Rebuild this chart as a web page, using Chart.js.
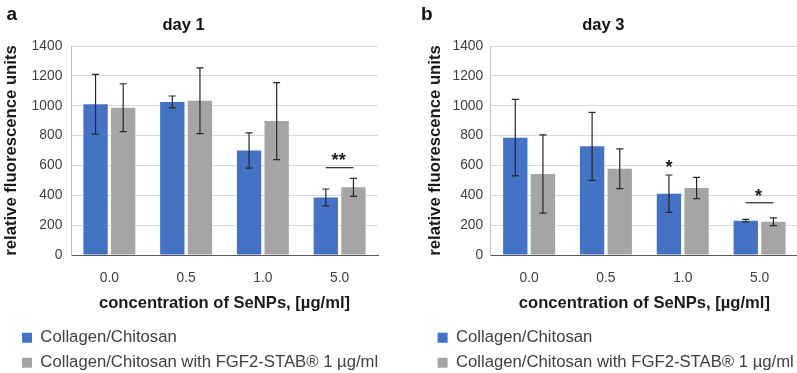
<!DOCTYPE html>
<html>
<head>
<meta charset="utf-8">
<script src="https://cdn.jsdelivr.net/npm/chart.js@4/dist/chart.umd.min.js"></script>
<style>
  html, body { margin: 0; padding: 0; background: #fff; }
  body { width: 797px; height: 373px; overflow: hidden; position: relative; }
  .panel { position: absolute; top: 0; }
</style>
</head>
<body>
<div class="panel" style="left:0px"><canvas id="c1" width="400" height="381"></canvas></div>
<div class="panel" style="left:400px"><canvas id="c2" width="398" height="381"></canvas></div>
<script>
// ---- data ----
const categories = ['0.0', '0.5', '1.0', '5.0'];
const seriesNames = ['Collagen/Chitosan', 'Collagen/Chitosan with FGF2-STAB® 1 µg/ml'];
const day1Collagen    = [1010, 1025, 700, 385];
const day1CollagenErr = [200, 40, 118, 57];
const day1Fgf         = [987, 1033, 897, 453];
const day1FgfErr      = [160, 220, 258, 60];
const day3Collagen    = [786, 728, 411, 230];
const day3CollagenErr = [256, 228, 125, 9];
const day3Fgf         = [543, 578, 449, 223];
const day3FgfErr      = [262, 133, 71, 26];
const yMin = 0, yMax = 1400, yStep = 200;
// significance marks: category index, text, value of bracket line (null = over single bar), value of text baseline, dataset under a single mark
const day1SigCat = [3];       const day1SigText = ['**'];     const day1SigLine = [585];       const day1SigTextVal = [593];      const day1SigBar = [null];
const day3SigCat = [2, 3];    const day3SigText = ['*', '*']; const day3SigLine = [null, 350]; const day3SigTextVal = [552, 354]; const day3SigBar = [0, null];

const FONT = '"Liberation Sans", Arial, sans-serif';
const BLUE = '#4472C4', GREY = '#A5A5A5';

const decor = {
  id: 'decor',
  afterDatasetsDraw(chart, args, o) {
    const ctx = chart.ctx, ys = chart.scales.y;
    ctx.save();
    ctx.strokeStyle = '#262626';
    ctx.lineWidth = 1.2;
    chart.data.datasets.forEach((ds, di) => {
      const meta = chart.getDatasetMeta(di);
      meta.data.forEach((bar, i) => {
        const v = ds.data[i], e = ds.errors[i];
        const x = bar.x;
        const yt = ys.getPixelForValue(v + e), yb = ys.getPixelForValue(v - e);
        ctx.beginPath();
        ctx.moveTo(x, yt); ctx.lineTo(x, yb);
        ctx.moveTo(x - 3.5, yt); ctx.lineTo(x + 3.5, yt);
        ctx.moveTo(x - 3.5, yb); ctx.lineTo(x + 3.5, yb);
        ctx.stroke();
      });
    });
    // significance
    ctx.fillStyle = '#1a1a1a';
    ctx.font = 'bold 18px ' + FONT;
    ctx.textAlign = 'center';
    ctx.textBaseline = 'alphabetic';
    o.sigCat.forEach((c, k) => {
      const b0 = chart.getDatasetMeta(0).data[c], b1 = chart.getDatasetMeta(1).data[c];
      let tx;
      if (o.sigLine[k] !== null) {
        const ly = ys.getPixelForValue(o.sigLine[k]);
        ctx.beginPath();
        ctx.moveTo(b0.x, ly); ctx.lineTo(b1.x, ly);
        ctx.stroke();
        tx = (b0.x + b1.x) / 2 - 1;
      } else {
        tx = chart.getDatasetMeta(o.sigBar[k]).data[c].x;
      }
      ctx.fillText(o.sigText[k], tx, ys.getPixelForValue(o.sigTextVal[k]));
    });
    ctx.restore();
  },
  afterDraw(chart, args, o) {
    const ctx = chart.ctx;
    ctx.save();
    ctx.fillStyle = '#111';
    ctx.textBaseline = 'alphabetic';
    ctx.font = 'bold 19px ' + FONT;
    ctx.textAlign = 'left';
    ctx.fillText(o.letter, o.letterX, 20);
    ctx.font = 'bold 16.5px ' + FONT;
    ctx.textAlign = 'center';
    ctx.fillText(o.title, o.titleX, 29.5);
    ctx.restore();
  }
};

function makeChart(id, cfg) {
  return new Chart(document.getElementById(id), {
    type: 'bar',
    data: {
      labels: categories,
      datasets: [
        { label: seriesNames[0], data: cfg.a, errors: cfg.aErr, backgroundColor: BLUE, borderWidth: 0,
          categoryPercentage: 0.72, barPercentage: 0.88 },
        { label: seriesNames[1], data: cfg.b, errors: cfg.bErr, backgroundColor: GREY, borderWidth: 0,
          categoryPercentage: 0.72, barPercentage: 0.88 }
      ]
    },
    plugins: [decor],
    options: {
      responsive: false,
      animation: false,
      events: [],
      layout: { padding: { top: 46, bottom: 0, left: cfg.padLeft, right: cfg.padRight } },
      scales: {
        x: {
          grid: { display: false, drawTicks: false },
          border: { display: true, color: '#595959', width: 1 },
          ticks: { padding: 14.7, color: '#404040', font: { family: FONT, size: 13.8 } },
          title: { display: true, text: 'concentration of SeNPs, [µg/ml]', color: '#1a1a1a',
                   font: { family: FONT, size: 16.6, weight: 'bold' }, padding: { top: -7.9, bottom: 8 } },
          afterFit: s => { s.height = 66; }
        },
        y: {
          min: yMin, max: yMax,
          grid: { color: '#D9D9D9', drawTicks: false, lineWidth: 1 },
          border: { display: true, color: '#BFBFBF', width: 1 },
          ticks: { stepSize: yStep, padding: cfg.tickPad, color: '#404040', font: { family: FONT, size: 13.8 },
                   callback: v => String(v) },
          title: { display: true, text: 'relative fluorescence units', color: '#1a1a1a',
                   font: { family: FONT, size: 16.7, weight: 'bold' }, padding: { top: cfg.yTitleTop, bottom: 0 } },
          afterFit: s => { s.width = cfg.yWidth; }
        }
      },
      plugins: {
        title: { display: false },
        tooltip: { enabled: false },
        legend: {
          position: 'bottom', align: 'start',
          labels: { boxWidth: 10, boxHeight: 10, padding: 8.3, color: '#404040', font: { family: FONT, size: 16.7 } }
        },
        decor: {
          letter: cfg.letter, letterX: cfg.letterX, title: cfg.title, titleX: cfg.titleX,
          sigCat: cfg.sigCat, sigText: cfg.sigText, sigLine: cfg.sigLine, sigTextVal: cfg.sigTextVal, sigBar: cfg.sigBar
        }
      }
    }
  });
}

makeChart('c1', {
  a: day1Collagen, aErr: day1CollagenErr, b: day1Fgf, bErr: day1FgfErr,
  padLeft: 13.7, padRight: 22, tickPad: 8.7, yWidth: 57.3, yTitleTop: -12.7,
  letter: 'a', letterX: 6.5, title: 'day 1', titleX: 183.5,
  sigCat: day1SigCat, sigText: day1SigText, sigLine: day1SigLine, sigTextVal: day1SigTextVal, sigBar: day1SigBar
});
makeChart('c2', {
  a: day3Collagen, aErr: day3CollagenErr, b: day3Fgf, bErr: day3FgfErr,
  padLeft: 29.3, padRight: 0, tickPad: 7.5, yWidth: 61.4, yTitleTop: -3.8,
  letter: 'b', letterX: 21, title: 'day 3', titleX: 203.3,
  sigCat: day3SigCat, sigText: day3SigText, sigLine: day3SigLine, sigTextVal: day3SigTextVal, sigBar: day3SigBar
});
</script>
</body>
</html>
